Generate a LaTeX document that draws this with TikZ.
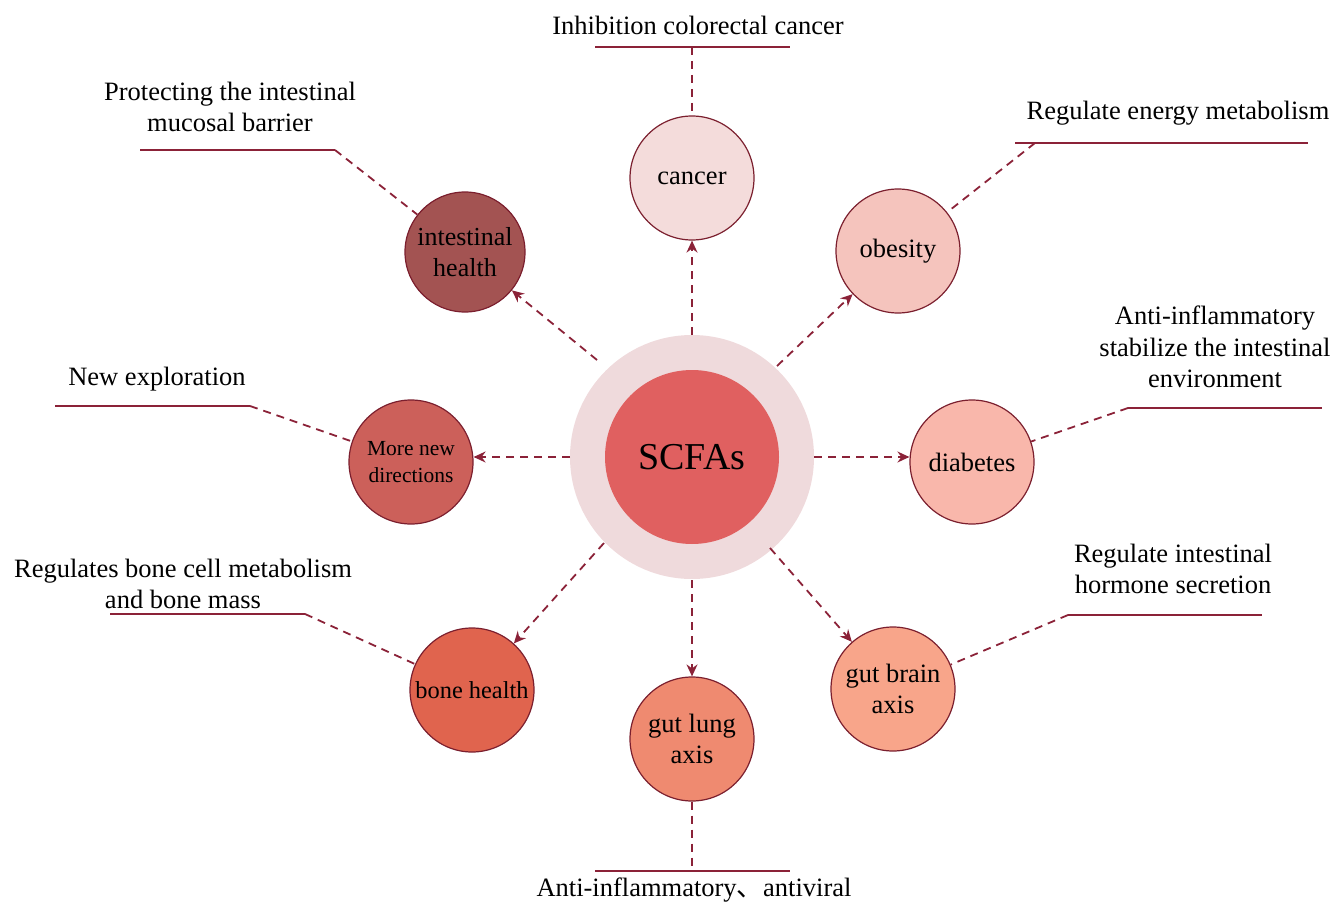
\documentclass[tikz,border=0pt]{standalone}
\usepackage{fontspec}
\setmainfont{Liberation Serif}
\newfontfamily\cjkfont{Noto Sans CJK SC}
\usetikzlibrary{arrows.meta}
\definecolor{edge}{HTML}{7B1F2E}
\definecolor{dashc}{HTML}{8B2238}
\definecolor{ringc}{HTML}{EFDADC}
\definecolor{corec}{HTML}{E06060}
\definecolor{cCancer}{HTML}{F4DCDB}
\definecolor{cInt}{HTML}{A35352}
\definecolor{cObes}{HTML}{F5C4BD}
\definecolor{cDiab}{HTML}{F9B7AB}
\definecolor{cBrain}{HTML}{F8A58A}
\definecolor{cLung}{HTML}{EF8A70}
\definecolor{cBone}{HTML}{E0644E}
\definecolor{cNew}{HTML}{CC605A}
\definecolor{linec}{HTML}{8B2238}
\tikzset{
  topic/.style={circle, draw=edge, line width=1.2pt, minimum size=124pt, inner sep=0pt, align=center, font=\fontsize{26.5}{31}\selectfont},
  arr/.style={draw=dashc, line width=1.8pt, dash pattern=on 8pt off 6pt, -{Stealth[length=12pt,width=11pt,inset=4pt]}},
  lead/.style={draw=dashc, line width=1.8pt, dash pattern=on 8pt off 6pt},
  uline/.style={draw=linec, line width=1.3pt},
  lab/.style={align=center, font=\fontsize{26.5}{31.5}\selectfont, inner sep=0pt}
}
\begin{document}
\begin{tikzpicture}[x=1pt,y=-1pt]
\useasboundingbox (0,0) rectangle (1333,904);
% center
\node[circle, fill=ringc, minimum size=244pt, inner sep=0pt] (ring) at (692,457) {};
\node[circle, fill=corec, minimum size=174pt, inner sep=0pt, font=\fontsize{38}{42}\selectfont] (core) at (692,457) {SCFAs};
% topics
\node[topic, fill=cCancer] (cancer) at (692,178) {cancer};
\node[topic, fill=cInt, minimum size=120pt, font=\fontsize{26}{31}\selectfont] (intest) at (465,252) {intestinal\\health};
\node[topic, fill=cObes] (obes) at (898,251) {obesity};
\node[topic, fill=cDiab] (diab) at (972,462) {diabetes};
\node[topic, fill=cBrain] (brain) at (893,689) {gut brain\\axis};
\node[topic, fill=cLung] (lung) at (692,739) {gut lung\\axis};
\node[topic, fill=cBone, font=\fontsize{24.4}{28}\selectfont] (bone) at (472,690) {bone health};
\node[topic, fill=cNew, font=\fontsize{21.5}{27}\selectfont] (newd) at (411,462) {More new\\directions};
% arrows from ring
\coordinate (sTop) at (692,335);
\coordinate (sInt) at (597,360);
\coordinate (sObe) at (777,366);
\coordinate (sDia) at (814,457);
\coordinate (sNew) at (570,457);
\coordinate (sBon) at (604,543);
\coordinate (sLun) at (692,580);
\coordinate (sBra) at (770,548);
\draw[arr] (sTop) -- (cancer);
\draw[arr] (sInt) -- (intest);
\draw[arr] (sObe) -- (obes);
\draw[arr] (sDia) -- (diab.west |- sDia);
\draw[arr] (sNew) -- (newd.east |- sNew);
\draw[arr] (sBon) -- (bone);
\draw[arr] (sLun) -- (lung);
\draw[arr] (sBra) -- (brain);
% labels
\node[lab] (tCancer) at (698,25) {Inhibition colorectal cancer};
\coordinate (uCa1) at (595,47); \coordinate (uCa2) at (790,47); \coordinate (uCaM) at (692,47);
\draw[uline] (uCa1) -- (uCa2);
\draw[lead] (uCaM) -- (cancer);

\node[lab] (tInt) at (230,107) {Protecting the intestinal\\mucosal barrier};
\coordinate (uIn1) at (140,150); \coordinate (uIn2) at (335,150);
\draw[uline] (uIn1) -- (uIn2);
\draw[lead] (uIn2) -- (intest);

\node[lab] (tObe) at (1178,113) {Regulate energy metabolism};
\coordinate (uOb1) at (1015,143); \coordinate (uOb2) at (1308,143); \coordinate (uObS) at (1035,143);
\draw[uline] (uOb1) -- (uOb2);
\draw[lead] (uObS) -- (obes);

\node[lab] (tDia) at (1215,347) {Anti-inflammatory\\stabilize the intestinal\\environment};
\coordinate (uDi1) at (1128,408); \coordinate (uDi2) at (1322,408);
\draw[uline] (uDi1) -- (uDi2);
\draw[lead] (uDi1) -- (diab);

\node[lab] (tNew) at (157,379) {New exploration};
\coordinate (uNe1) at (55,406); \coordinate (uNe2) at (250,406);
\draw[uline] (uNe1) -- (uNe2);
\draw[lead] (uNe2) -- (newd);

\node[lab] (tBone) at (183,584) {Regulates bone cell metabolism\\and bone mass};
\coordinate (uBo1) at (110,614); \coordinate (uBo2) at (305,614);
\draw[uline] (uBo1) -- (uBo2);
\draw[lead] (uBo2) -- (bone);

\node[lab] (tBrain) at (1173,569) {Regulate intestinal\\hormone secretion};
\coordinate (uBr1) at (1068,615); \coordinate (uBr2) at (1262,615);
\draw[uline] (uBr1) -- (uBr2);
\draw[lead] (uBr1) -- (brain);

\node[lab] (tLung) at (694,890) {Anti-inflammatory{\cjkfont 、}antiviral};
\coordinate (uLu1) at (595,871); \coordinate (uLu2) at (790,871); \coordinate (uLuM) at (692,871);
\draw[uline] (uLu1) -- (uLu2);
\draw[lead] (lung) -- (uLuM);
\end{tikzpicture}
\end{document}
